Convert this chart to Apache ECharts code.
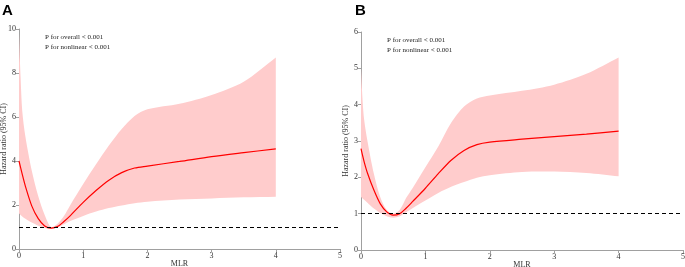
<!DOCTYPE html>
<html>
<head>
<meta charset="utf-8">
<script src="https://cdn.jsdelivr.net/npm/echarts@6/dist/echarts.min.js"></script>
<style>
  html, body { margin: 0; padding: 0; background: #fff; }
  #chart { width: 685px; height: 267px; }
</style>
</head>
<body>
<div id="chart"></div>
<script>
// shared MLR grid
var mlr = [0, 0.025, 0.05, 0.1, 0.2, 0.3, 0.4, 0.5, 0.6, 0.7, 0.8, 1.0, 1.2, 1.4, 1.6, 1.8, 2.0, 2.5, 3.0, 3.5, 4.0];

// panel A
var hrA    = [4.0, 3.7, 3.4, 2.85, 1.95, 1.38, 1.05, 0.95, 1.02, 1.25, 1.52, 2.12, 2.66, 3.13, 3.47, 3.68, 3.77, 3.98, 4.2, 4.38, 4.55];
var lowerA = [1.63, 1.55, 1.48, 1.37, 1.2, 1.06, 0.96, 0.92, 0.98, 1.12, 1.27, 1.5, 1.7, 1.86, 1.98, 2.08, 2.15, 2.25, 2.3, 2.35, 2.38];
var upperA = [9.8, 7.8, 6.3, 5.1, 3.55, 2.4, 1.55, 1.0, 1.15, 1.5, 2.0, 2.95, 3.85, 4.7, 5.45, 6.05, 6.35, 6.6, 7.0, 7.6, 8.7];

// panel B
var hrB    = [2.79, 2.6, 2.42, 2.12, 1.65, 1.27, 1.05, 0.96, 1.0, 1.15, 1.33, 1.7, 2.1, 2.47, 2.74, 2.9, 2.97, 3.05, 3.12, 3.19, 3.27];
var lowerB = [1.46, 1.42, 1.38, 1.3, 1.14, 1.02, 0.93, 0.89, 0.93, 1.04, 1.15, 1.36, 1.57, 1.74, 1.87, 1.99, 2.06, 2.15, 2.16, 2.12, 2.03];
var upperB = [5.0, 4.1, 3.57, 3.0, 2.1, 1.45, 1.1, 1.0, 1.1, 1.43, 1.7, 2.28, 2.85, 3.5, 3.95, 4.17, 4.25, 4.38, 4.55, 4.85, 5.3];

var refLine = 1;
var pText = ['P for overall < 0.001', 'P for nonlinear < 0.001'];

var serif = 'Liberation Serif';
var axisGrey = '#a0a0a0';

function pairs(ys) {
  return mlr.map(function (x, i) { return [x, ys[i]]; });
}

// CI band drawn as one polygon through the axis scales
function band(idx, lo, hi) {
  return {
    type: 'custom',
    xAxisIndex: idx,
    yAxisIndex: idx,
    silent: true,
    z: 1,
    data: [0],
    renderItem: function (params, api) {
      var top = [], bottom = [];
      for (var i = 0; i < mlr.length; i++) {
        top.push(api.coord([mlr[i], hi[i]]));
        bottom.push(api.coord([mlr[i], lo[i]]));
      }
      bottom.reverse();
      // doubled end points keep the corners sharp when smoothing
      var pts = [top[0]].concat(top, [top[top.length - 1]], [bottom[0]], bottom, [bottom[bottom.length - 1]]);
      return {
        type: 'polygon',
        shape: { points: pts, smooth: 0.3 },
        style: { fill: '#ffcccc', stroke: null }
      };
    }
  };
}

function xAx(idx) {
  return {
    gridIndex: idx,
    type: 'value',
    min: 0, max: 5, interval: 1,
    name: 'MLR',
    nameLocation: 'middle',
    nameGap: 11,
    nameMoveOverlap: false,
    nameTextStyle: { fontFamily: serif, fontSize: 8, color: '#333' },
    axisLine: { lineStyle: { color: axisGrey } },
    axisTick: { length: 3, lineStyle: { color: axisGrey } },
    axisLabel: { fontFamily: serif, fontSize: 8, color: '#333', margin: 3 },
    splitLine: { show: false }
  };
}

function yAx(idx, max, interval) {
  return {
    gridIndex: idx,
    type: 'value',
    min: 0, max: max, interval: interval,
    name: 'Hazard ratio (95% CI)',
    nameLocation: 'middle',
    nameGap: 11,
    nameMoveOverlap: false,
    nameTextStyle: { fontFamily: serif, fontSize: 8, color: '#333' },
    axisLine: { show: true, lineStyle: { color: axisGrey } },
    axisTick: { show: true, length: 3, lineStyle: { color: axisGrey } },
    axisLabel: { fontFamily: serif, fontSize: 8, color: '#333', margin: 3 },
    splitLine: { show: false }
  };
}

function curve(idx, ys) {
  return {
    type: 'line',
    xAxisIndex: idx,
    yAxisIndex: idx,
    data: pairs(ys),
    smooth: 0.3,
    showSymbol: false,
    z: 3,
    lineStyle: { color: '#ff0000', width: 1.2 },
    markLine: {
      silent: true,
      symbol: 'none',
      label: { show: false },
      lineStyle: { color: '#000', type: [4, 3], width: 1 },
      data: [{ yAxis: refLine }]
    }
  };
}

var chart = echarts.init(document.getElementById('chart'));
chart.setOption({
  animation: false,
  grid: [
    { left: 19, top: 29, width: 321, height: 220, containLabel: false, outerBoundsMode: 'none' },
    { left: 361, top: 32, width: 322, height: 218, containLabel: false, outerBoundsMode: 'none' }
  ],
  xAxis: [xAx(0), xAx(1)],
  yAxis: [yAx(0, 10, 2), yAx(1, 6, 1)],
  series: [band(0, lowerA, upperA), curve(0, hrA), band(1, lowerB, upperB), curve(1, hrB)],
  graphic: [
    { type: 'text', left: 2, top: 3, style: { text: 'A', font: 'bold 15px "Liberation Sans"', fill: '#000' } },
    { type: 'text', left: 355, top: 3, style: { text: 'B', font: 'bold 15px "Liberation Sans"', fill: '#000' } },
    { type: 'text', left: 45, top: 32, style: { text: pText.join('\n'), font: '7px "Liberation Serif"', lineHeight: 10, fill: '#222' } },
    { type: 'text', left: 387, top: 35, style: { text: pText.join('\n'), font: '7px "Liberation Serif"', lineHeight: 10, fill: '#222' } }
  ]
});
</script>
</body>
</html>
